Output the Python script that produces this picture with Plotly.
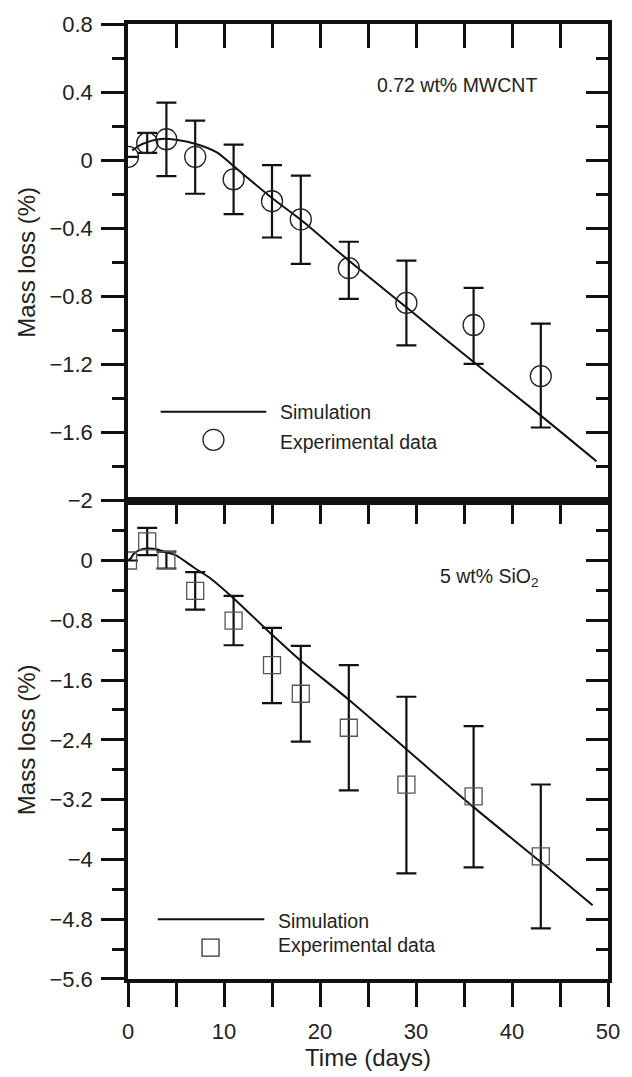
import plotly.graph_objects as go

# ---------------- data ----------------
# Top panel: 0.72 wt% MWCNT
mw_days = [0, 2, 4, 7, 11, 15, 18, 23, 29, 36, 43]
mw_loss = [0.02, 0.10, 0.123, 0.02, -0.112, -0.241, -0.348, -0.634, -0.838, -0.968, -1.268]
mw_err_up = [0.0, 0.06, 0.215, 0.212, 0.203, 0.212, 0.258, 0.155, 0.248, 0.218, 0.308]
mw_err_dn = [0.0, 0.057, 0.217, 0.217, 0.205, 0.213, 0.261, 0.181, 0.250, 0.228, 0.302]
mw_sim_x = [0.45, 1.0, 1.5, 2.5, 3.5, 5.0, 7.0, 9.3, 10.9, 15.0, 18.0, 23.0, 29.0, 36.0, 43.0, 48.8]
mw_sim_y = [0.058, 0.08, 0.095, 0.115, 0.125, 0.12, 0.097, 0.045, -0.03, -0.222, -0.35, -0.589, -0.864, -1.185, -1.50, -1.768]

# Bottom panel: 5 wt% SiO2
si_days = [0, 2, 4, 7, 11, 15, 18, 23, 29, 36, 43]
si_loss = [0.0, 0.255, 0.005, -0.405, -0.803, -1.399, -1.783, -2.238, -3.0, -3.156, -3.96]
si_err_up = [0.0, 0.182, 0.115, 0.251, 0.331, 0.499, 0.640, 0.839, 1.177, 0.940, 0.963]
si_err_dn = [0.0, 0.182, 0.112, 0.252, 0.331, 0.508, 0.641, 0.839, 1.186, 0.950, 0.962]
si_sim_x = [0.0, 0.3, 0.6, 1.2, 2.0, 2.9, 3.9, 4.9, 6.9, 8.7, 10.9, 14.9, 17.9, 23.0, 29.0, 36.0, 43.0, 48.4]
si_sim_y = [0.0, 0.03, 0.09, 0.14, 0.16, 0.155, 0.11, 0.075, -0.097, -0.25, -0.494, -0.98, -1.33, -1.862, -2.525, -3.3, -4.035, -4.613]

# Axis ticks
x_major = [0, 10, 20, 30, 40, 50]
x_major_text = ["0", "10", "20", "30", "40", "50"]
x_minor = [5, 15, 25, 35, 45]
x_all = [0, 5, 10, 15, 20, 25, 30, 35, 40, 45, 50]
top_yticks = [0.8, 0.4, 0, -0.4, -0.8, -1.2, -1.6, -2]
top_yticktext = ["0.8", "0.4", "0", "\u22120.4", "\u22120.8", "\u22121.2", "\u22121.6", "\u22122"]
top_yminor = [0.6, 0.2, -0.2, -0.6, -1.0, -1.4, -1.8]
bot_yticks = [0, -0.8, -1.6, -2.4, -3.2, -4, -4.8, -5.6]
bot_yticktext = ["0", "\u22120.8", "\u22121.6", "\u22122.4", "\u22123.2", "\u22124", "\u22124.8", "\u22125.6"]
bot_yminor = [0.4, -0.4, -1.2, -2.0, -2.8, -3.6, -4.4, -5.2]

# Legend key positions (data units) and labels
top_leg_line_x = [3.4, 14.4]
top_leg_line_y = -1.478
top_leg_marker = (8.9, -1.642)
top_leg_text_x = 15.6
top_leg_text_y = [-1.478, -1.655]
bot_leg_line_x = [3.1, 14.2]
bot_leg_line_y = -4.80
bot_leg_marker = (8.6, -5.18)
bot_leg_text_x = 15.4
bot_leg_text_y = [-4.82, -5.14]
legend_labels = ["Simulation", "Experimental data"]

FONT = "Liberation Sans, Arial, Helvetica, sans-serif"
TXT = "#222222"
LINE = "#111111"

fig = go.Figure()

# Simulation lines
fig.add_trace(go.Scatter(x=mw_sim_x, y=mw_sim_y, mode="lines",
                         line=dict(color=LINE, width=2, shape="spline", smoothing=0.8),
                         xaxis="x", yaxis="y", showlegend=False, hoverinfo="skip"))
fig.add_trace(go.Scatter(x=si_sim_x, y=si_sim_y, mode="lines",
                         line=dict(color=LINE, width=2, shape="spline", smoothing=0.8),
                         xaxis="x2", yaxis="y2", showlegend=False, hoverinfo="skip"))

# Experimental data
fig.add_trace(go.Scatter(x=mw_days, y=mw_loss, mode="markers",
                         marker=dict(symbol="circle-open", size=21, color="#222222", line=dict(width=1.3)),
                         error_y=dict(type="data", array=mw_err_up, arrayminus=mw_err_dn, symmetric=False,
                                      color=LINE, thickness=2.2, width=10),
                         xaxis="x", yaxis="y", showlegend=False))
fig.add_trace(go.Scatter(x=si_days, y=si_loss, mode="markers",
                         marker=dict(symbol="square-open", size=17, color="#555555", line=dict(width=1.3)),
                         error_y=dict(type="data", array=si_err_up, arrayminus=si_err_dn, symmetric=False,
                                      color=LINE, thickness=2.2, width=10),
                         xaxis="x2", yaxis="y2", showlegend=False))

# Legend keys (drawn manually)
fig.add_trace(go.Scatter(x=top_leg_line_x, y=[top_leg_line_y] * 2, mode="lines",
                         line=dict(color=LINE, width=2), xaxis="x", yaxis="y",
                         showlegend=False, hoverinfo="skip"))
fig.add_trace(go.Scatter(x=[top_leg_marker[0]], y=[top_leg_marker[1]], mode="markers",
                         marker=dict(symbol="circle-open", size=21, color="#222222", line=dict(width=1.3)),
                         xaxis="x", yaxis="y", showlegend=False, hoverinfo="skip"))
fig.add_trace(go.Scatter(x=bot_leg_line_x, y=[bot_leg_line_y] * 2, mode="lines",
                         line=dict(color=LINE, width=2), xaxis="x2", yaxis="y2",
                         showlegend=False, hoverinfo="skip"))
fig.add_trace(go.Scatter(x=[bot_leg_marker[0]], y=[bot_leg_marker[1]], mode="markers",
                         marker=dict(symbol="square-open", size=17, color="#333333", line=dict(width=1.3)),
                         xaxis="x2", yaxis="y2", showlegend=False, hoverinfo="skip"))

# Dummy traces to activate mirrored (top/right) axes
fig.add_trace(go.Scatter(x=[None], y=[None], xaxis="x3", yaxis="y3", showlegend=False, hoverinfo="skip"))
fig.add_trace(go.Scatter(x=[None], y=[None], xaxis="x4", yaxis="y4", showlegend=False, hoverinfo="skip"))

split = 0.5008
common_line = dict(showline=True, linecolor=LINE, linewidth=3.5, showgrid=False, zeroline=False)
tickfont = dict(family=FONT, size=22, color=TXT)
titlefont = dict(family=FONT, size=24, color=TXT)

fig.update_layout(
    width=632, height=1077,
    margin=dict(l=128, r=15, t=24, b=86),
    paper_bgcolor="white", plot_bgcolor="white",
    font=dict(family=FONT, color=TXT),
    showlegend=False,
    xaxis=dict(range=[0, 50], anchor="y", domain=[0, 1], ticks="", showticklabels=False, **common_line),
    xaxis2=dict(range=[0, 50], anchor="y2", domain=[0, 1], ticks="outside", ticklen=24, tickwidth=3,
                tickcolor=LINE, tickmode="array", tickvals=x_major, ticktext=x_major_text,
                tickfont=tickfont, ticklabelstandoff=6,
                minor=dict(tickmode="array", tickvals=x_minor, ticks="outside", ticklen=24,
                           tickwidth=3, tickcolor=LINE, showgrid=False),
                title=dict(text="Time (days)", font=titlefont, standoff=4), **common_line),
    xaxis3=dict(range=[0, 50], anchor="y3", overlaying="x", side="top", ticks="inside", ticklen=24,
                tickwidth=3, tickcolor=LINE, tickmode="array", tickvals=x_all, showticklabels=False,
                **common_line),
    xaxis4=dict(range=[0, 50], anchor="y4", overlaying="x2", side="top", ticks="inside", ticklen=24,
                tickwidth=3, tickcolor=LINE, tickmode="array", tickvals=x_all, showticklabels=False,
                **common_line),
    yaxis=dict(range=[-2, 0.8], anchor="x", domain=[split, 1], ticks="outside", ticklen=23, tickwidth=3,
               tickcolor=LINE, tickmode="array", tickvals=top_yticks, ticktext=top_yticktext,
               tickfont=tickfont, ticklabelstandoff=4,
               minor=dict(tickmode="array", tickvals=top_yminor, ticks="outside", ticklen=12,
                          tickwidth=3, tickcolor=LINE, showgrid=False),
               title=dict(text="Mass loss (%)", font=titlefont, standoff=8), **common_line),
    yaxis3=dict(range=[-2, 0.8], anchor="x3", overlaying="y", side="right", ticks="inside", ticklen=22,
                tickwidth=3, tickcolor=LINE, tickmode="array", tickvals=top_yticks, showticklabels=False,
                minor=dict(tickmode="array", tickvals=top_yminor, ticks="inside", ticklen=12,
                           tickwidth=3, tickcolor=LINE, showgrid=False),
                **common_line),
    yaxis2=dict(range=[-5.6, 0.8], anchor="x2", domain=[0, split], ticks="outside", ticklen=23, tickwidth=3,
                tickcolor=LINE, tickmode="array", tickvals=bot_yticks, ticktext=bot_yticktext,
                tickfont=tickfont, ticklabelstandoff=4,
                minor=dict(tickmode="array", tickvals=bot_yminor, ticks="outside", ticklen=12,
                           tickwidth=3, tickcolor=LINE, showgrid=False),
                title=dict(text="Mass loss (%)", font=titlefont, standoff=8), **common_line),
    yaxis4=dict(range=[-5.6, 0.8], anchor="x4", overlaying="y2", side="right", ticks="inside", ticklen=22,
                tickwidth=3, tickcolor=LINE, tickmode="array", tickvals=bot_yticks, showticklabels=False,
                minor=dict(tickmode="array", tickvals=bot_yminor, ticks="inside", ticklen=12,
                           tickwidth=3, tickcolor=LINE, showgrid=False),
                **common_line),
)

annots = [
    dict(x=42.8, y=0.443, xref="x", yref="y", text="0.72 wt% MWCNT", xanchor="right", yanchor="middle",
         showarrow=False, font=dict(family=FONT, size=19.5, color=TXT)),
    dict(x=43.0, y=-0.23, xref="x2", yref="y2", text="5 wt% SiO<sub>2</sub>", xanchor="right",
         yanchor="middle", showarrow=False, font=dict(family=FONT, size=19.5, color=TXT)),
]
for ty, lab in zip(top_leg_text_y, legend_labels):
    annots.append(dict(x=top_leg_text_x, y=ty, xref="x", yref="y", text=lab, xanchor="left",
                       yanchor="middle", showarrow=False, font=dict(family=FONT, size=19.5, color=TXT)))
for ty, lab in zip(bot_leg_text_y, legend_labels):
    annots.append(dict(x=bot_leg_text_x, y=ty, xref="x2", yref="y2", text=lab, xanchor="left",
                       yanchor="middle", showarrow=False, font=dict(family=FONT, size=19.5, color=TXT)))
fig.update_layout(annotations=annots)

fig.write_html("out.html")
